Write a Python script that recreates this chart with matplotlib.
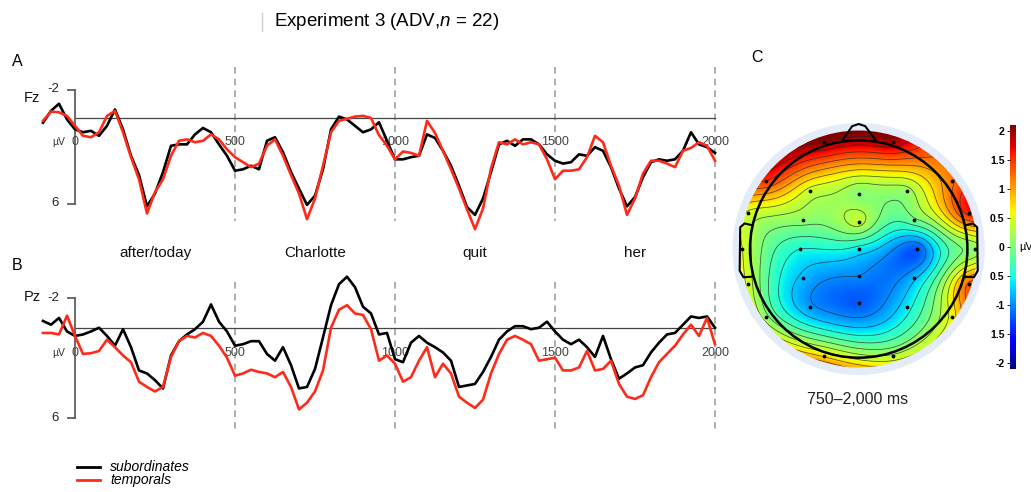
import numpy as np
import matplotlib
matplotlib.use("Agg")
import matplotlib.pyplot as plt
from matplotlib.patches import Circle
from matplotlib.cm import ScalarMappable
from matplotlib.colors import Normalize

plt.rcParams['font.family'] = ['Liberation Sans', 'DejaVu Sans']
plt.rcParams['mathtext.fontset'] = 'custom'
plt.rcParams['mathtext.it'] = 'Liberation Sans:italic'
plt.rcParams['mathtext.rm'] = 'Liberation Sans'

W, H = 1031, 492

# ERP time axis (ms), one value every 25 ms
times = np.arange(-100, 2001, 25)

fz_sub = [0.33, -0.5, -1.0, 0.1, 0.8, 1.0, 0.9, 1.25, 0.55, -0.6,
          0.8, 2.65, 4.0, 6.2, 5.3, 3.8, 1.95, 1.85, 1.85, 1.15,
          0.7, 1.0, 1.85, 2.65, 3.7, 3.6, 3.35, 3.6, 1.6, 1.35,
          2.4, 3.8, 4.95, 6.1, 5.45, 3.6, 0.8, -0.1, 0.1, 0.55,
          1.0, 0.8, 0.3, 1.6, 2.9, 2.9, 2.75, 2.65, 1.15, 1.4,
          2.3, 3.35, 4.75, 6.25, 6.8, 5.65, 3.8, 1.85, 1.6, 1.95,
          1.5, 1.5, 1.85, 2.55, 3.0, 3.2, 3.1, 2.55, 2.65, 2.05,
          2.3, 3.45, 4.95, 6.2, 5.55, 4.15, 3.1, 2.9, 3.0, 2.9,
          2.3, 1.0, 1.85, 2.05, 2.45]
fz_tmp = [0.2, -0.45, -0.4, -0.15, 0.55, 1.25, 1.35, 1.0, -0.15, -0.5,
          1.0, 2.75, 4.3, 6.7, 5.2, 4.3, 2.65, 1.6, 1.5, 1.7,
          1.6, 1.15, 1.5, 2.2, 2.75, 3.1, 3.45, 3.2, 1.95, 1.5,
          2.65, 4.0, 5.3, 7.1, 5.65, 3.35, 1.0, 0.2, 0.05, -0.1,
          -0.15, 0.0, 1.2, 1.95, 2.9, 2.35, 2.45, 2.65, 0.2, 1.05,
          2.3, 3.6, 4.95, 6.4, 7.8, 6.35, 3.55, 1.7, 1.85, 1.5,
          1.85, 1.7, 1.85, 2.9, 4.3, 3.7, 3.7, 3.6, 2.75, 1.25,
          1.7, 3.35, 4.75, 6.8, 5.65, 3.9, 3.0, 3.0, 3.2, 3.45,
          2.3, 2.1, 1.7, 1.95, 3.0]
pz_sub = [-0.45, -0.2, -0.65, 0.25, 0.55, 0.45, 0.25, 0.0, 0.55, 1.2,
          0.1, 1.3, 2.85, 3.05, 3.5, 4.05, 1.85, 0.9, 0.45, 0.1,
          -0.4, -1.55, -0.4, 0.25, 1.2, 1.1, 0.9, 0.9, 1.75, 2.2,
          1.3, 2.5, 4.05, 3.95, 2.75, 0.65, -1.5, -2.9, -3.4, -2.7,
          -1.4, -0.95, 0.45, 0.35, 2.1, 2.3, 1.0, 0.55, 1.0, 1.3,
          1.65, 2.2, 3.95, 3.85, 3.75, 2.95, 1.95, 0.8, 0.25, -0.1,
          -0.1, 0.1, 0.0, -0.4, 0.25, 0.8, 1.1, 0.8, 1.3, 1.95,
          0.55, 2.1, 3.4, 3.05, 2.65, 2.5, 1.65, 1.0, 0.45, 0.35,
          -0.2, -0.75, -0.65, -0.75, 0.0]
pz_tmp = [0.35, 0.35, 0.45, -0.8, 0.55, 1.75, 1.7, 1.55, 0.8, 1.3,
          1.85, 2.3, 3.6, 3.95, 4.25, 3.95, 1.95, 0.9, 0.55, 0.65,
          0.35, 0.55, 1.2, 2.0, 3.2, 3.05, 2.8, 2.95, 3.05, 3.3,
          2.95, 3.95, 5.45, 5.0, 4.25, 2.85, 0.0, -1.2, -1.5, -0.95,
          -0.85, 0.1, 2.2, 1.85, 2.4, 3.6, 3.3, 2.2, 1.3, 3.3,
          2.4, 3.05, 4.6, 5.0, 5.35, 4.8, 3.05, 1.75, 0.8, 0.55,
          0.8, 1.1, 2.2, 2.1, 2.0, 2.85, 2.85, 2.65, 1.55, 2.85,
          2.75, 2.2, 3.75, 4.6, 4.75, 4.5, 3.3, 2.3, 1.75, 1.2,
          0.45, -0.2, 0.55, -0.65, 1.1]

words = ['after/today', 'Charlotte', 'quit', 'her']
time_ticks = [0, 500, 1000, 1500, 2000]

# topography, 750-2000 ms (head radius = 1)
elec_x = [-0.316, 0.316, -0.856, 0.856, -0.445, 0.0, 0.445, -1.015, 1.015,
          -0.513, 0.0, 0.513, -1.07, -0.537, 0.0, 0.537, 1.07,
          -1.015, -0.513, 0.0, 0.513, 1.015, -0.856, -0.445, 0.0, 0.445, 0.856,
          -0.316, 0.316]
elec_y = [0.982, 0.982, 0.626, 0.626, 0.534, 0.509, 0.534, 0.334, 0.334,
          0.267, 0.252, 0.267, 0.0, 0.0, 0.0, 0.0, 0.0,
          -0.322, -0.264, -0.248, -0.264, -0.322, -0.623, -0.531, -0.5, -0.531, -0.623,
          -0.982, -0.982]
elec_v = [2.0, 1.9, 1.5, 1.2, 0.4, 0.05, 0.15, 0.45, 1.6,
          0.1, 0.35, -0.05, 0.5, -0.5, -0.6, -1.2, 0.1,
          0.4, -0.8, -1.0, -0.8, 1.3, 0.1, -0.95, -1.2, -0.6, 0.6,
          0.7, 0.3]
cbar_ticks = [2, 1.5, 1, 0.5, 0, -0.5, -1, -1.5, -2]
cbar_labels = ['2', '1.5', '1', '0.5', '0', '0.5', '-1', '1.5', '-2']

RED = '#ff2a1a'
fig = plt.figure(figsize=(W / 100, H / 100), dpi=100)


def px_axes(x0, y0, x1, y1):
    return fig.add_axes([x0 / W, 1 - y1 / H, (x1 - x0) / W, (y1 - y0) / H])


def erp_panel(y0, y1, zero_px, px_per_uv, sub, tmp, chan, chan_px, dash_lo, dash_hi, show_words):
    ax = px_axes(35, y0, 720, y1)
    ax.set_xlim((35 - 75) / 0.32, (720 - 75) / 0.32)
    ax.set_ylim((y1 - zero_px) / px_per_uv, (y0 - zero_px) / px_per_uv)
    ax.axis('off')
    for t in time_ticks[1:]:
        ax.plot([t, t], [dash_lo, dash_hi], color='#a0a0a0', lw=1.2,
                dashes=(4, 3), zorder=1)
    ax.plot([0, 2000], [0, 0], color='#444444', lw=0.9, zorder=1)
    ax.plot([0, 0], [-2, 6], color='#606060', lw=1.3, zorder=1)
    ax.plot([-22, 0], [-2, -2], color='#606060', lw=1.3)
    ax.plot([-22, 0], [6, 6], color='#606060', lw=1.3)
    ax.text(-50, -2, '-2', ha='right', va='center', fontsize=9.5, color='#222222')
    ax.text(-50, 6, '6', ha='right', va='center', fontsize=9.5, color='#222222')
    ax.text(-160, (chan_px - zero_px) / px_per_uv, chan, ha='left', va='center',
            fontsize=10.5, color='#111111')
    ax.text(-70, 1.7, 'µV', ha='left', va='center', fontsize=7.5, color='#333333')
    for t in time_ticks:
        ax.text(t, 1.7, str(t), ha='center', va='center', fontsize=9, color='#444444')
    ax.plot(times, sub, color='black', lw=1.9, zorder=3)
    ax.plot(times, tmp, color=RED, lw=1.9, zorder=4)
    if show_words:
        for i, w in enumerate(words):
            ax.text(250 + 500 * i, (253 - zero_px) / px_per_uv, w, ha='center',
                    va='center', fontsize=11, color='#111111')
    return ax


erp_panel(60, 240, 118, 14.25, fz_sub, fz_tmp, 'Fz', 98, -3.6, 7.2, True)
erp_panel(268, 440, 327.7, 15.0, pz_sub, pz_tmp, 'Pz', 297, -3.05, 6.8, False)

# topographic map
cx, cy, R = 858.7, 249.0, 108.7
tax = px_axes(728, 108, 995, 382)
tax.set_xlim((728 - cx) / R, (995 - cx) / R)
tax.set_ylim((cy - 382) / R, (cy - 108) / R)
tax.axis('off')

ex, ey, ev = np.array(elec_x), np.array(elec_y), np.array(elec_v)


def green(r):
    g = np.zeros_like(r)
    nz = r > 0
    g[nz] = r[nz] ** 2 * (np.log(r[nz]) - 1)
    return g


wts = np.linalg.solve(green(np.hypot(ex[:, None] - ex, ey[:, None] - ey)), ev)
g = np.linspace(-1.12, 1.12, 320)
GX, GY = np.meshgrid(g, g)
Z = green(np.hypot(GX[..., None] - ex, GY[..., None] - ey)) @ wts

tax.add_patch(Circle((0, 0), 1.16, fc='#e3ecf8', ec='none', zorder=0))
clip = Circle((0, 0), 1.09, fc='none', ec='none')
tax.add_patch(clip)
norm = Normalize(-2.1, 2.1)
im = tax.imshow(Z, extent=(-1.12, 1.12, -1.12, 1.12), origin='lower', cmap='jet',
                norm=norm, interpolation='bilinear', zorder=1)
im.set_clip_path(clip)
cs = tax.contour(GX, GY, Z, levels=np.arange(-2.0, 2.01, 0.25), colors='#222222',
                 linewidths=0.55, linestyles='solid', alpha=0.75, zorder=2)
cs.set_clip_path(clip)
tax.add_patch(Circle((0, 0), 1.0, fc='none', ec='black', lw=1.8, zorder=4))
tax.plot([-0.155, -0.06, 0.0, 0.06, 0.165], [0.99, 1.13, 1.15, 1.13, 0.99],
         color='black', lw=1.5, zorder=4)
ear_x = [0.985, 1.05, 1.09, 1.095, 1.06, 0.985]
ear_y = [0.22, 0.235, 0.2, -0.2, -0.26, -0.255]
tax.plot([-v for v in ear_x], ear_y, color='black', lw=1.5, zorder=4)
tax.plot(ear_x, ear_y, color='black', lw=1.5, zorder=4)
tax.scatter(ex, ey, s=3, color='black', zorder=5)

cax = px_axes(1010, 125, 1016, 369)
cb = fig.colorbar(ScalarMappable(norm=norm, cmap='jet'), cax=cax)
cb.outline.set_visible(False)
cax.yaxis.set_ticks_position('left')
cb.set_ticks(cbar_ticks)
cb.set_ticklabels(cbar_labels)
cax.tick_params(length=2, width=0.6, labelsize=7.5, pad=2)
for lab in cax.get_yticklabels():
    lab.set_fontweight('bold')

# overlay in pixel coordinates for free text and legend
ov = fig.add_axes([0, 0, 1, 1], zorder=10)
ov.set_xlim(0, W)
ov.set_ylim(H, 0)
ov.axis('off')
ov.plot([262, 262], [13, 31], color='#d0d0d0', lw=1)
ov.text(387, 22, r'Experiment 3 (ADV,$n$ = 22)', ha='center', va='center', fontsize=13.5)
ov.text(12, 62, 'A', ha='left', va='center', fontsize=11.5)
ov.text(12, 265, 'B', ha='left', va='center', fontsize=11.5)
ov.text(751, 57, 'C', ha='left', va='center', fontsize=11.5)
ov.text(858, 400, '750–2,000 ms', ha='center', va='center', fontsize=11.5, color='#222222')
ov.text(1019, 247, 'µV', ha='left', va='center', fontsize=8)
ov.plot([77, 100], [467, 467], color='black', lw=2)
ov.plot([77, 100], [480, 480], color=RED, lw=2)
ov.text(110, 467, 'subordinates', ha='left', va='center', fontsize=10, style='italic')
ov.text(110, 480, 'temporals', ha='left', va='center', fontsize=10, style='italic')

fig.savefig('out.png', dpi=100)
